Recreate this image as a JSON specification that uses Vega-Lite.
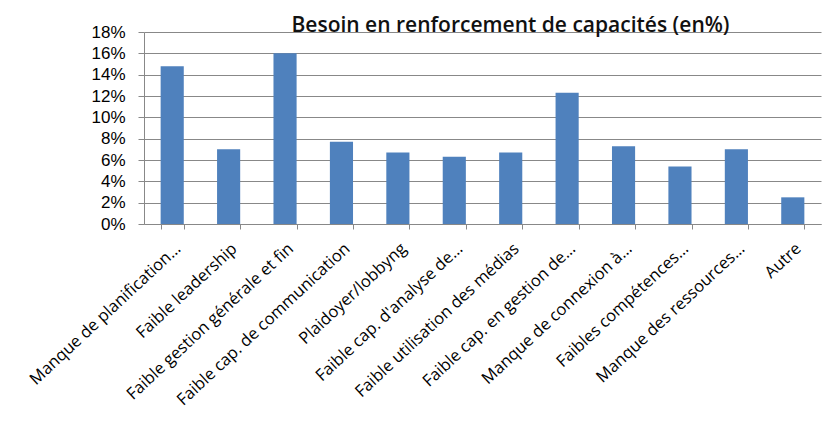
{
  "$schema": "https://vega.github.io/schema/vega-lite/v6.json",
  "width": 677,
  "height": 192,
  "autosize": {"type": "none"},
  "padding": {"left": 144, "top": 32, "right": 17, "bottom": 216},
  "background": "white",
  "title": {
    "text": "Besoin en renforcement de capacités (en%)",
    "font": "Open Sans",
    "fontSize": 21,
    "fontWeight": 600,
    "color": "#111111",
    "anchor": "middle",
    "dx": 28,
    "offset": -13
  },
  "data": {
    "values": [
      {"cat": "Manque de planification…", "val": 0.148},
      {"cat": "Faible leadership", "val": 0.070},
      {"cat": "Faible gestion générale et fin", "val": 0.160},
      {"cat": "Faible cap. de communication", "val": 0.077},
      {"cat": "Plaidoyer/lobbyng", "val": 0.067},
      {"cat": "Faible cap. d'analyse de…", "val": 0.063},
      {"cat": "Faible utilisation des médias", "val": 0.067},
      {"cat": "Faible cap. en gestion de…", "val": 0.123},
      {"cat": "Manque de connexion à…", "val": 0.073},
      {"cat": "Faibles compétences…", "val": 0.054},
      {"cat": "Manque des ressources…", "val": 0.070},
      {"cat": "Autre", "val": 0.025}
    ]
  },
  "mark": {"type": "bar", "color": "#4F81BD"},
  "encoding": {
    "x": {
      "field": "cat", "type": "nominal", "sort": null,
      "scale": {"paddingInner": 0.59, "paddingOuter": 0.295},
      "axis": {
        "title": null, "orient": "bottom",
        "labelAngle": -43, "labelAlign": "right", "labelBaseline": "top",
        "labelFont": "Open Sans", "labelFontSize": 16.5, "labelColor": "#000000",
        "labelPadding": 11, "ticks": true, "tickBand": "extent", "tickSize": 5,
        "tickColor": "#888888", "domain": true,
        "domainColor": "#888888", "labelLimit": 400, "labelOverlap": false
      }
    },
    "y": {
      "field": "val", "type": "quantitative",
      "scale": {"domain": [0, 0.18]},
      "axis": {
        "title": null, "format": ".0%", "values": [0, 0.02, 0.04, 0.06, 0.08, 0.1, 0.12, 0.14, 0.16, 0.18],
        "labelOverlap": false, "labelFlush": false,
        "labelFont": "Liberation Sans", "labelFontSize": 17, "labelColor": "#000000",
        "tickSize": 6, "tickColor": "#888888", "labelPadding": 13,
        "domainColor": "#888888", "gridColor": "#888888", "gridWidth": 1
      }
    }
  },
  "config": {"view": {"stroke": null}}
}
